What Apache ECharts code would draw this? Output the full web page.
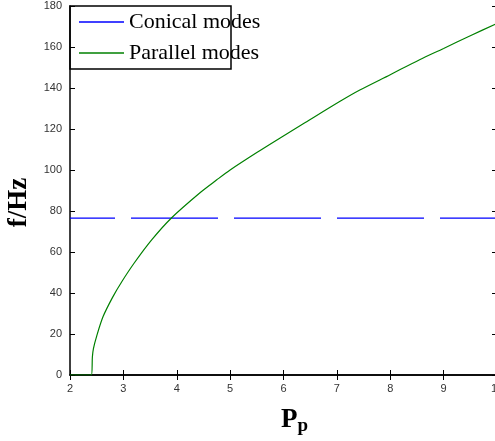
<!DOCTYPE html>
<html>
<head>
<meta charset="utf-8">
<script src="https://cdn.jsdelivr.net/npm/echarts@6/dist/echarts.min.js"></script>
<style>
  html, body { margin: 0; padding: 0; background: #fff; }
  #main { width: 495px; height: 441px; }
</style>
</head>
<body>
<div id="main"></div>
<script>
// data
var seriesNames = ['Conical modes', 'Parallel modes'];
var conicalP = [2, 10];
var conicalF = [76.5, 76.5];
var parallelP = [2.0, 2.4, 2.42, 2.44, 2.5, 2.62, 2.8, 2.97, 3.2, 3.53, 3.9, 4.43, 4.75, 5.0, 5.5, 5.93, 6.4, 7.06, 7.43, 8.0, 8.55, 9.0, 9.5, 10.0];
var parallelF = [0, 0, 9, 13, 19, 28.5, 38, 45.5, 54.5, 65.9, 76.6, 88.8, 95.2, 100, 108.5, 115.5, 123, 133.5, 139, 146.5, 153.8, 159.3, 165.5, 171.5];

function pairs(xs, ys) {
    var out = [];
    for (var i = 0; i < xs.length; i++) out.push([xs[i], ys[i]]);
    return out;
}

var myChart = echarts.init(document.getElementById('main'));

var tickLabel = { fontFamily: 'Liberation Sans', fontSize: 11, color: '#333' };
var axLine = { lineStyle: { color: '#000', width: 1.5 } };
var ticks = { inside: true, length: 5, lineStyle: { color: '#000', width: 1 } };

var option = {
    animation: false,
    grid: { left: 70, top: 6, width: 427, height: 369, outerBoundsMode: 'none' },
    legend: {
        orient: 'vertical',
        left: 79,
        top: 11,
        padding: 0,
        icon: 'rect',
        itemWidth: 45,
        itemHeight: 1.5,
        itemGap: 9,
        textStyle: { fontFamily: 'Liberation Serif', fontSize: 22, color: '#000' },
        data: seriesNames
    },
    graphic: [{
        type: 'rect',
        shape: { x: 70, y: 6, width: 161, height: 63 },
        style: { fill: 'none', stroke: '#000', lineWidth: 1.5 },
        z: 100
    }],
    xAxis: [{
        type: 'value', min: 2, max: 10, interval: 1,
        axisLine: axLine, axisTick: ticks, splitLine: { show: false },
        axisLabel: tickLabel,
        name: '{P|P}{s|p}',
        nameLocation: 'middle',
        nameGap: 30,
        nameTextStyle: {
            padding: [0, 0, 0, 22],
            rich: {
                P: { fontFamily: 'Liberation Serif', fontWeight: 'bold', fontSize: 27, color: '#000' },
                s: { fontFamily: 'Liberation Serif', fontWeight: 'bold', fontSize: 19, color: '#000', padding: [12, 0, 0, 0] }
            }
        }
    }, {
        type: 'value', position: 'top', min: 2, max: 10, interval: 1,
        axisLine: axLine, axisTick: ticks, splitLine: { show: false },
        axisLabel: { show: false }
    }],
    yAxis: [{
        type: 'value', min: 0, max: 180, interval: 20,
        axisLine: axLine, axisTick: ticks, splitLine: { show: false },
        axisLabel: tickLabel,
        name: 'f/Hz',
        nameLocation: 'middle',
        nameGap: 36,
        nameTextStyle: {
            fontFamily: 'Liberation Serif', fontWeight: 'bold', fontSize: 27, color: '#000',
            padding: [0, 24, 0, 0]
        }
    }, {
        type: 'value', position: 'right', min: 0, max: 180, interval: 20,
        axisLine: axLine, axisTick: ticks, splitLine: { show: false },
        axisLabel: { show: false }
    }],
    series: [{
        name: seriesNames[0],
        type: 'line',
        symbol: 'none',
        data: pairs(conicalP, conicalF),
        itemStyle: { color: '#0000ff' },
        lineStyle: { color: '#0000ff', width: 1.2, type: [87, 16], dashOffset: 42 }
    }, {
        name: seriesNames[1],
        type: 'line',
        symbol: 'none',
        smooth: 0.3,
        data: pairs(parallelP, parallelF),
        itemStyle: { color: '#008000' },
        lineStyle: { color: '#008000', width: 1.2 }
    }]
};

myChart.setOption(option);
</script>
</body>
</html>
